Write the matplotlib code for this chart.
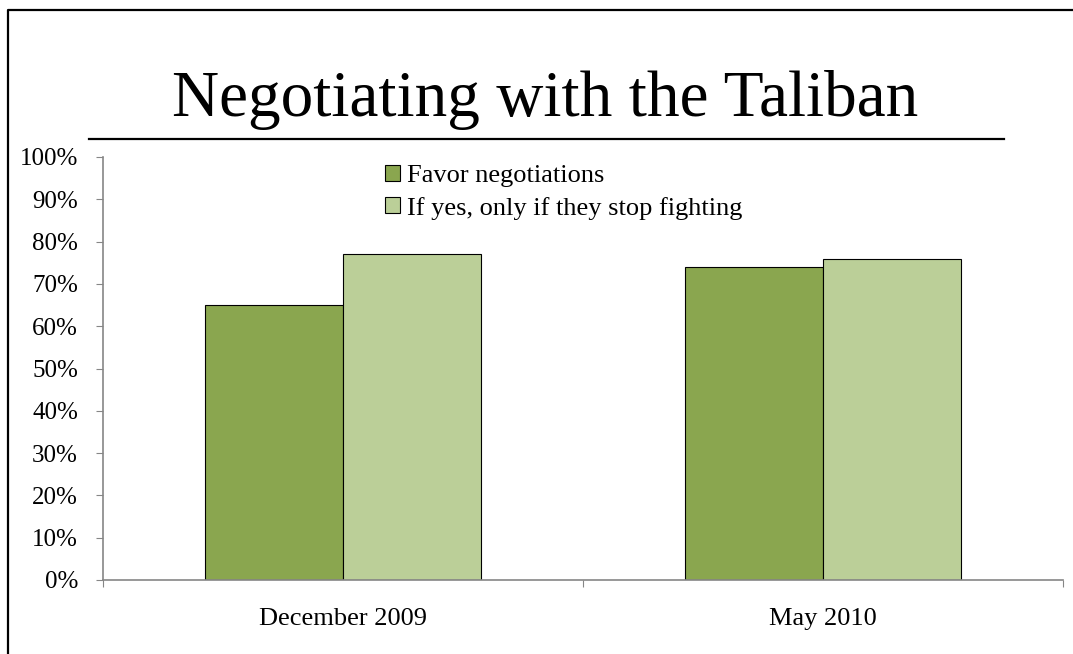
import numpy as np
import matplotlib
matplotlib.use("Agg")
import matplotlib.pyplot as plt
from matplotlib.patches import Patch
from matplotlib.lines import Line2D
from matplotlib.ticker import PercentFormatter

# data
periods = ["December 2009", "May 2010"]
favor = [65, 74]
only_if_stop = [77, 76]
series_names = ["Favor negotiations", "If yes, only if they stop fighting"]
colors = ["#8AA64F", "#BBCF98"]

plt.rcParams['font.family'] = ['Liberation Serif', 'DejaVu Serif']

fig = plt.figure(figsize=(10.73, 6.54), dpi=100)
ax = fig.add_axes([103/1073, 1-580/654, (1063-103)/1073, (580-157)/654])

x = np.arange(len(periods))
w = 0.2875
ax.bar(x - w/2, favor, w, color=colors[0], edgecolor='black', linewidth=0.8)
ax.bar(x + w/2, only_if_stop, w, color=colors[1], edgecolor='black', linewidth=0.8)

ax.set_xlim(-0.5, len(periods) - 0.5)
ax.set_ylim(0, 100)
ax.set_yticks(np.arange(0, 101, 10))
ax.yaxis.set_major_formatter(PercentFormatter(decimals=0))
ax.set_xticks(x)
ax.set_xticklabels(periods)
ax.set_xticks(np.arange(-0.5, len(periods), 1), minor=True)

gray = '#868686'
for s in ['top', 'right']:
    ax.spines[s].set_visible(False)
for s in ['left', 'bottom']:
    ax.spines[s].set_color(gray)
    ax.spines[s].set_linewidth(1.2)
ax.tick_params(axis='y', direction='out', length=5, width=0.8, color=gray,
               labelsize=18, pad=13)
ax.tick_params(axis='x', which='major', length=0, labelsize=19, pad=20)
ax.tick_params(axis='x', which='minor', direction='out', length=5, width=0.8, color=gray)

handles = [Patch(facecolor=c, edgecolor='black', linewidth=0.8) for c in colors]
ax.legend(handles, series_names, loc='upper left',
          bbox_to_anchor=(385/1073, 1-165/654), bbox_transform=fig.transFigure,
          frameon=False, fontsize=19, handlelength=0.55, handleheight=0.55,
          handletextpad=0.3, labelspacing=0.36, borderpad=0, borderaxespad=0)

# title and slide decorations
fig.text(545/1073, 1-116/654, "Negotiating with the Taliban", fontsize=47,
         ha='center', va='baseline')
fig.add_artist(Line2D([89/1073, 1004/1073], [1-139/654, 1-139/654],
                      color='black', linewidth=1.6, transform=fig.transFigure))
fig.add_artist(Line2D([8/1073, 8/1073, 1.0], [0.0, 1-10/654, 1-10/654],
                      color='black', linewidth=1.6, transform=fig.transFigure))

fig.savefig("out.png", dpi=100)
